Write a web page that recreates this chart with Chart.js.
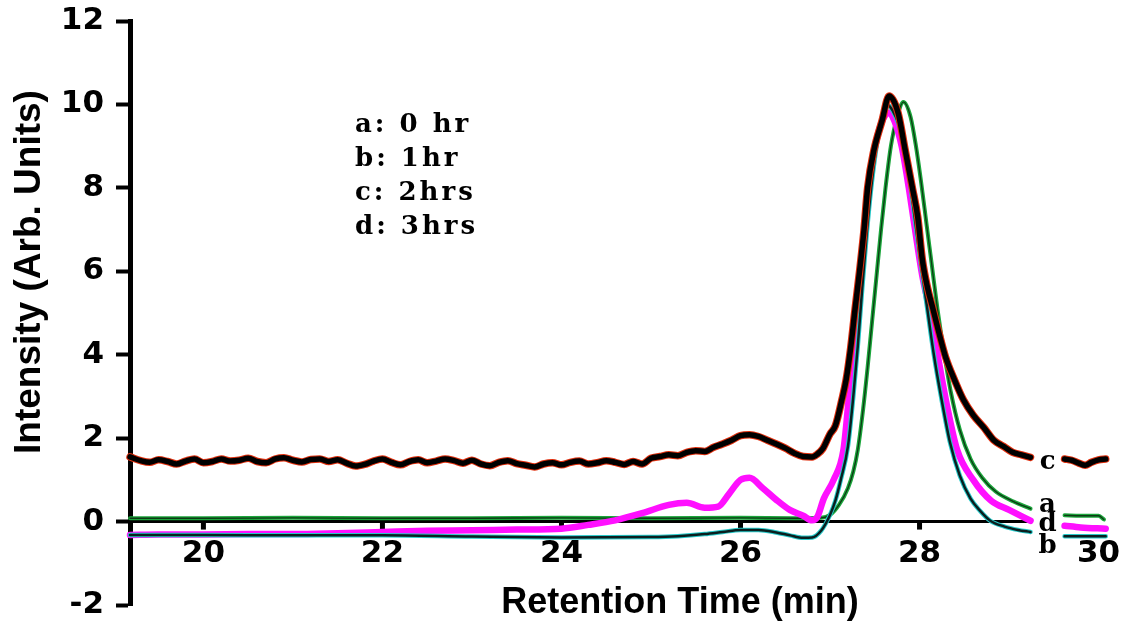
<!DOCTYPE html>
<html>
<head>
<meta charset="utf-8">
<style>
  html, body { margin: 0; padding: 0; background: #fff; }
  #wrap { width: 1123px; height: 622px; }
</style>
<script src="https://cdn.jsdelivr.net/npm/chart.js@4.4.1/dist/chart.umd.min.js"></script>
</head>
<body>
<div id="wrap"><canvas id="chart"></canvas></div>
<script>
// tick labels
var xTicks = [20, 22, 24, 26, 28, 30];
var yTicks = [-2, 0, 2, 4, 6, 8, 10, 12];

// a: 0 hr
var timeA = [19.18, 20, 21, 22, 23, 24, 25, 26, 26.6, 26.9, 27.0, 27.1, 27.2, 27.26, 27.31, 27.37, 27.42, 27.47, 27.52, 27.57, 27.62, 27.68, 27.75, 27.82,
  27.9, 27.96, 28.02, 28.08, 28.14, 28.2, 28.27, 28.35, 28.45, 28.57, 28.7, 28.85, 29.05, 29.24, 29.4, 29.62, 29.8, 30.0, 30.06];
var intensA = [0.08, 0.08, 0.09, 0.08, 0.08, 0.09, 0.08, 0.09, 0.08, 0.09, 0.16, 0.4, 0.8, 1.2, 1.72, 2.7, 3.7, 4.8, 5.9, 7.0, 8.0, 9.0, 9.7, 10.06,
  9.7, 9.0, 8.1, 7.1, 6.1, 5.1, 4.1, 3.1, 2.2, 1.5, 1.05, 0.72, 0.48, 0.31, null, 0.15, 0.14, 0.14, 0.05];

// b: 1hr
var timeB = [19.18, 20, 21, 22, 23, 24, 25, 25.3, 25.6, 25.8, 26.0, 26.2, 26.4, 26.55, 26.7, 26.8, 26.9, 27.0, 27.06, 27.12, 27.2, 27.26, 27.31, 27.36, 27.41, 27.46, 27.52, 27.58, 27.64,
  27.7, 27.77, 27.84, 27.92, 28.0, 28.08, 28.16, 28.24, 28.34, 28.45, 28.57, 28.68, 28.79, 28.95, 29.1, 29.24, 29.4, 29.62, 30.08];
var intensB = [-0.32, -0.32, -0.33, -0.33, -0.36, -0.38, -0.37, -0.35, -0.3, -0.25, -0.2, -0.2, -0.26, -0.33, -0.39, -0.38, -0.22, 0.16, 0.5, 1.0, 1.8, 3.0, 4.2, 5.6, 6.9, 8.0, 9.0, 9.7, 10.0,
  9.85, 9.5, 8.9, 7.7, 6.4, 5.2, 4.0, 3.0, 1.9, 1.1, 0.55, 0.25, 0.02, -0.12, -0.2, -0.25, null, -0.35, -0.35];

// c: 2hrs
var timeC = [19.18, 19.3, 19.4, 19.5, 19.6, 19.7, 19.8, 19.9, 20.0, 20.1, 20.2, 20.3, 20.4, 20.5, 20.6, 20.7, 20.8, 20.9,
  21.0, 21.1, 21.2, 21.3, 21.4, 21.5, 21.6, 21.7, 21.8, 21.9, 22.0, 22.1, 22.2, 22.3, 22.4, 22.5, 22.6, 22.7, 22.8, 22.9,
  23.0, 23.1, 23.2, 23.3, 23.4, 23.5, 23.6, 23.7, 23.8, 23.9, 24.0, 24.1, 24.2, 24.3, 24.4, 24.5, 24.6, 24.7, 24.8, 24.9,
  25.0, 25.1, 25.2, 25.3, 25.4, 25.5, 25.6, 25.7, 25.8, 25.9, 26.0, 26.1, 26.2, 26.3, 26.4, 26.5, 26.6, 26.7, 26.8, 26.86, 26.92,
  27.0, 27.06, 27.13, 27.18, 27.23, 27.28, 27.33, 27.38, 27.42, 27.49, 27.58, 27.66, 27.76, 27.84, 27.92, 27.98, 28.03, 28.09,
  28.15, 28.22, 28.29, 28.39, 28.49, 28.6, 28.72, 28.83, 28.94, 29.04, 29.14, 29.24, 29.4, 29.62, 29.7, 29.78, 29.85, 29.92, 30.0, 30.08];
var intensC = [1.55, 1.46, 1.42, 1.48, 1.44, 1.38, 1.45, 1.5, 1.41, 1.44, 1.5, 1.45, 1.47, 1.52, 1.44, 1.41, 1.5, 1.53,
  1.47, 1.43, 1.49, 1.5, 1.44, 1.48, 1.4, 1.33, 1.37, 1.45, 1.5, 1.42, 1.36, 1.44, 1.48, 1.41, 1.45, 1.5, 1.46, 1.4,
  1.47, 1.38, 1.34, 1.42, 1.46, 1.39, 1.35, 1.31, 1.38, 1.41, 1.36, 1.42, 1.45, 1.38, 1.41, 1.46, 1.42, 1.37, 1.44, 1.38,
  1.52, 1.56, 1.6, 1.58, 1.66, 1.7, 1.68, 1.78, 1.86, 1.95, 2.06, 2.08, 2.04, 1.95, 1.86, 1.76, 1.64, 1.56, 1.55, 1.62, 1.75,
  2.1, 2.3, 2.9, 3.4, 4.15, 5.1, 6.0, 7.0, 8.0, 8.9, 9.6, 10.2, 9.8, 8.9, 8.0, 7.3, 6.3, 5.6,
  5.1, 4.5, 3.95, 3.4, 2.92, 2.55, 2.25, 1.95, 1.8, 1.66, 1.6, 1.54, null, 1.5, 1.47, 1.4, 1.35, 1.42, 1.48, 1.5];

// d: 3hrs
var timeD = [19.18, 19.5, 20.0, 20.5, 21.0, 21.5, 22.0, 22.5, 23.0, 23.5, 24.0, 24.3, 24.6, 24.9, 25.2, 25.4, 25.6, 25.75, 25.87, 26.0, 26.1, 26.25, 26.4, 26.55, 26.7, 26.8,
  26.86, 26.93, 27.04, 27.15, 27.21, 27.26, 27.31, 27.36, 27.42, 27.48, 27.55, 27.62, 27.66, 27.72, 27.8, 27.88, 27.95, 28.03, 28.12, 28.21, 28.29, 28.42, 28.6, 28.8, 29.0, 29.24,
  29.4, 29.62, 29.8, 30.08];
var intensD = [-0.32, -0.31, -0.31, -0.3, -0.3, -0.28, -0.25, -0.22, -0.21, -0.19, -0.17, -0.08, 0.03, 0.2, 0.4, 0.45, 0.33, 0.36, 0.66, 1.0, 1.05, 0.8, 0.52, 0.28, 0.14, 0.03,
  0.12, 0.55, 1.0, 1.72, 2.96, 4.0, 5.2, 6.4, 7.7, 8.7, 9.4, 9.75, 9.8, 9.6, 9.0, 8.0, 7.0, 5.9, 5.0, 3.9, 2.96, 1.72, 1.0, 0.5, 0.28, 0.02,
  null, -0.1, -0.14, -0.17];

var legendLines = ['a: 0 hr', 'b: 1hr', 'c: 2hrs', 'd: 3hrs'];
var curveTags = ['c', 'a', 'd', 'b'];
var curveTagValues = [1.43, 0.4, -0.06, -0.58];
var curveTagTime = 29.43;
var axisEnd = 29.25;

function pts(t, v) {
  return t.map(function (x, i) { return { x: x, y: v[i] }; });
}

function line(data, color, width, order) {
  return {
    data: data, borderColor: color, borderWidth: width, order: order,
    pointRadius: 0, fill: false, spanGaps: false, cubicInterpolationMode: 'monotone',
    borderCapStyle: 'round', borderJoinStyle: 'round', clip: false
  };
}

var overlay = {
  id: 'overlay',
  beforeDatasetsDraw: function (chart) {
    var ctx = chart.ctx, x = chart.scales.x, y = chart.scales.y;
    var y0 = y.getPixelForValue(0);
    ctx.save();
    ctx.strokeStyle = '#000';
    ctx.lineWidth = 3;
    ctx.beginPath();
    ctx.moveTo(x.left, y0);
    ctx.lineTo(x.getPixelForValue(axisEnd), y0);
    ctx.stroke();
    ctx.fillStyle = '#000';
    xTicks.forEach(function (v) {
      if (v > axisEnd) return;
      var px = x.getPixelForValue(v);
      ctx.fillRect(px - 2.5, y0, 5, 8);
    });
    ctx.restore();
  },
  afterDraw: function (chart) {
    var ctx = chart.ctx, x = chart.scales.x, y = chart.scales.y;
    ctx.save();
    ctx.fillStyle = '#000';
    ctx.textAlign = 'center';
    ctx.textBaseline = 'middle';
    ctx.font = 'bold 36px "Liberation Sans"';
    ctx.fillText('Retention Time (min)', 680, 603);
    ctx.save();
    ctx.translate(30, 272);
    ctx.rotate(-Math.PI / 2);
    ctx.font = 'bold 37px "Liberation Sans"';
    ctx.fillText('Intensity (Arb. Units)', 0, 0);
    ctx.restore();

    ctx.font = 'bold 26px "DejaVu Serif"';
    ctx.letterSpacing = '3px';
    ctx.textAlign = 'left';
    legendLines.forEach(function (s, i) {
      ctx.fillText(s, 355, 125 + i * 34);
    });

    ctx.letterSpacing = '0px';
    ctx.font = 'bold 26px "DejaVu Serif"';
    ctx.textAlign = 'center';
    curveTags.forEach(function (s, i) {
      ctx.fillText(s, x.getPixelForValue(curveTagTime), y.getPixelForValue(curveTagValues[i]));
    });
    ctx.restore();
  }
};

var tickFont = { family: 'DejaVu Sans', weight: 'bold', size: 31 };

new Chart(document.getElementById('chart'), {
  type: 'line',
  data: {
    datasets: [
      line(pts(timeA, intensA), '#1ba53b', 4, 8),
      line(pts(timeA, intensA), '#0d3a14', 1.3, 7),
      line(pts(timeD, intensD), '#ff10ff', 6.5, 6),
      line(pts(timeB, intensB), '#27c9c9', 4.5, 5),
      line(pts(timeB, intensB), '#0a1f1f', 2.5, 4),
      line(pts(timeC, intensC), '#e0300f', 7.5, 3),
      line(pts(timeC, intensC), '#000000', 5.5, 2)
    ]
  },
  options: {
    responsive: true,
    maintainAspectRatio: false,
    animation: false,
    devicePixelRatio: 1,
    layout: { padding: { top: 21, right: 11, bottom: 17, left: 0 } },
    plugins: { legend: { display: false }, tooltip: { enabled: false } },
    scales: {
      x: {
        type: 'linear',
        position: { y: 0 },
        min: 19.18,
        max: 30.15,
        afterFit: function (scale) {
          scale.paddingLeft = 0; scale.paddingRight = 0;
          scale.paddingTop = 0; scale.paddingBottom = 0;
        },
        afterBuildTicks: function (scale) { scale.ticks = xTicks.map(function (v) { return { value: v }; }); },
        border: { display: false },
        grid: { drawOnChartArea: false, drawTicks: false },
        ticks: { color: '#000', padding: 14, autoSkip: false, maxRotation: 0, font: tickFont }
      },
      y: {
        min: -2,
        max: 12,
        afterFit: function (scale) {
          scale.width = 130;
          scale.paddingTop = 0; scale.paddingBottom = 0;
        },
        afterBuildTicks: function (scale) { scale.ticks = yTicks.map(function (v) { return { value: v }; }); },
        border: { display: true, color: '#000', width: 5 },
        grid: { drawOnChartArea: false, drawTicks: true, tickLength: 14, tickWidth: 4, tickColor: '#000' },
        ticks: { color: '#000', padding: 12, font: tickFont }
      }
    }
  },
  plugins: [overlay]
});
</script>
</body>
</html>
